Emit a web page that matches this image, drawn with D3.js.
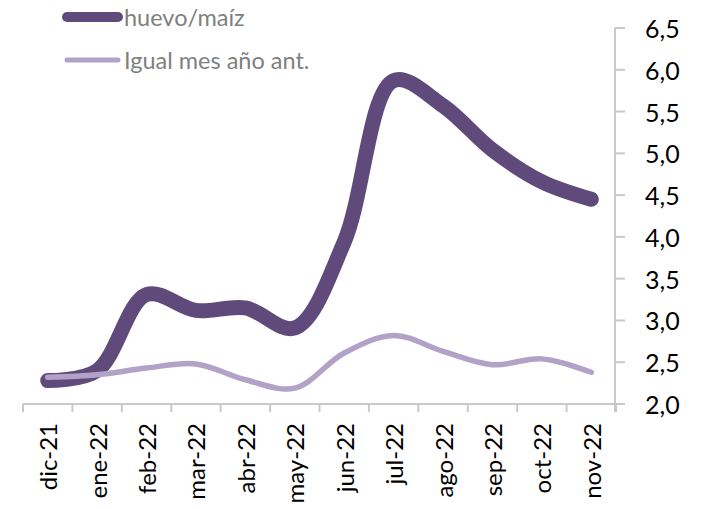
<!DOCTYPE html>
<html>
<head>
<meta charset="utf-8">
<script src="https://cdn.jsdelivr.net/npm/d3@7"></script>
<style>
  html, body { margin: 0; padding: 0; background: #fff; }
  svg { display: block; font-family: Lato, "Open Sans", sans-serif; }
</style>
</head>
<body>
<svg id="chart" width="723" height="509"></svg>
<script>
// Monthly categories
const months = ["dic-21", "ene-22", "feb-22", "mar-22", "abr-22", "may-22",
                "jun-22", "jul-22", "ago-22", "sep-22", "oct-22", "nov-22"];
// Egg / maize price ratio
const huevoMaiz = [2.28, 2.40, 3.31, 3.12, 3.15, 2.91, 3.94, 5.87, 5.57, 5.04, 4.66, 4.45];
// Same month of the previous year
const igualMesAnt = [2.32, 2.35, 2.43, 2.48, 2.29, 2.19, 2.61, 2.82, 2.63, 2.47, 2.54, 2.38];
// Right axis ticks
const yTicks = [2.0, 2.5, 3.0, 3.5, 4.0, 4.5, 5.0, 5.5, 6.0, 6.5];
const seriesNames = ["huevo/maíz", "Igual mes año ant."];

const svg = d3.select("#chart");
const axisColor = "#c9c9c9";
const darkPurple = "#604a7b";
const lightPurple = "#b3a2c7";

const x = d3.scaleBand().domain(months).range([23, 616]);
const y = d3.scaleLinear().domain([2, 6.5]).range([404, 28]);
const cx = m => x(m) + x.bandwidth() / 2;
const fmt = v => d3.format(".1f")(v).replace(".", ",");

// Category axis: baseline with separator ticks between months
const xAxisG = svg.append("g");
xAxisG.append("line")
  .attr("x1", 23).attr("x2", 625)
  .attr("y1", y(2)).attr("y2", y(2))
  .attr("stroke", axisColor).attr("stroke-width", 2);
const bounds = months.map(m => x(m)).concat([x(months[months.length - 1]) + x.bandwidth()]);
xAxisG.selectAll("line.sep").data(bounds).join("line")
  .attr("class", "sep")
  .attr("x1", d => d).attr("x2", d => d)
  .attr("y1", y(2)).attr("y2", y(2) + 8)
  .attr("stroke", axisColor).attr("stroke-width", 2);
xAxisG.selectAll("text").data(months).join("text")
  .attr("transform", m => `translate(${cx(m)},423) rotate(-90)`)
  .attr("text-anchor", "end")
  .attr("dominant-baseline", "central")
  .attr("font-size", 24)
  .attr("fill", "#000")
  .text(m => m);

// Value axis on the right
const yAxisG = svg.append("g");
yAxisG.append("line")
  .attr("x1", 615).attr("x2", 615)
  .attr("y1", y(6.5)).attr("y2", y(2) + 8)
  .attr("stroke", axisColor).attr("stroke-width", 2);
yAxisG.selectAll("line.tick").data(yTicks).join("line")
  .attr("class", "tick")
  .attr("x1", 615).attr("x2", 625)
  .attr("y1", d => y(d)).attr("y2", d => y(d))
  .attr("stroke", axisColor).attr("stroke-width", 2);
yAxisG.selectAll("text").data(yTicks).join("text")
  .attr("x", 645).attr("y", d => y(d))
  .attr("dominant-baseline", "central")
  .attr("font-size", 25)
  .attr("fill", "#000")
  .text(fmt);

// Smoothed series lines
const line = d3.line()
  .x((d, i) => cx(months[i]))
  .y(d => y(d))
  .curve(d3.curveCatmullRom.alpha(0.5));

svg.append("path").datum(huevoMaiz)
  .attr("d", line)
  .attr("fill", "none")
  .attr("stroke", darkPurple)
  .attr("stroke-width", 15)
  .attr("stroke-linecap", "round")
  .attr("stroke-linejoin", "round");

svg.append("path").datum(igualMesAnt)
  .attr("d", line)
  .attr("fill", "none")
  .attr("stroke", lightPurple)
  .attr("stroke-width", 5.5)
  .attr("stroke-linecap", "round")
  .attr("stroke-linejoin", "round");

// Legend
const legend = svg.append("g");
const legendRows = [
  { name: seriesNames[0], color: darkPurple, width: 10, y: 17 },
  { name: seriesNames[1], color: lightPurple, width: 5, y: 60 }
];
legendRows.forEach(r => {
  legend.append("line")
    .attr("x1", 67).attr("x2", 118)
    .attr("y1", r.y).attr("y2", r.y)
    .attr("stroke", r.color).attr("stroke-width", r.width)
    .attr("stroke-linecap", "round");
  legend.append("text")
    .attr("x", 124).attr("y", r.y)
    .attr("dominant-baseline", "central")
    .attr("font-size", 23.5)
    .attr("fill", "#7f7f7f")
    .text(r.name);
});
</script>
</body>
</html>
